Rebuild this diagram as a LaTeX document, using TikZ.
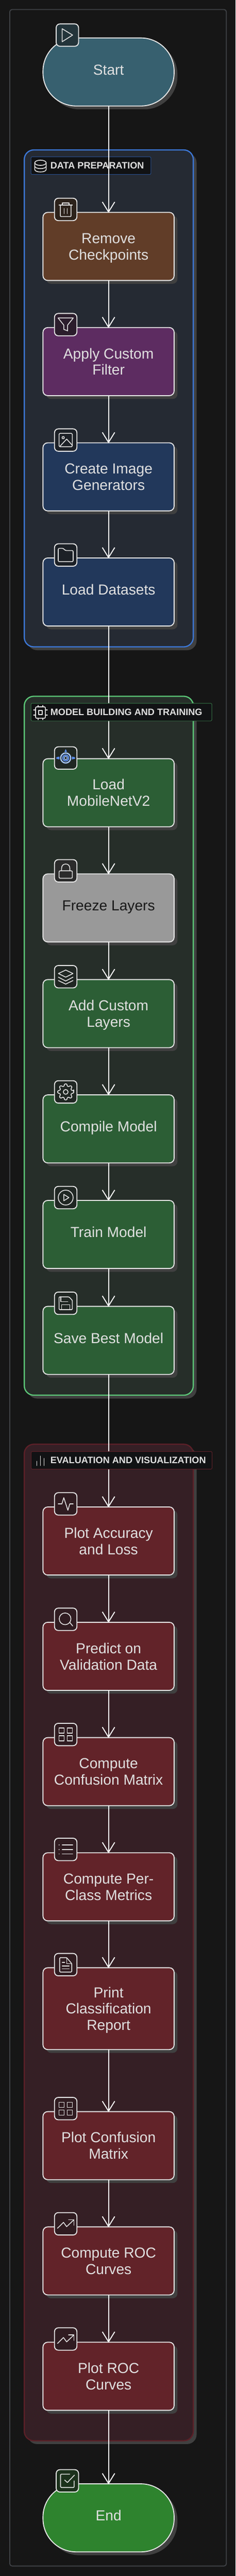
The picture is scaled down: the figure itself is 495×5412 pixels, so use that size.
\documentclass[tikz,border=0pt]{standalone}
\usepackage{fontspec}
\setmainfont{Liberation Sans}
\usetikzlibrary{arrows.meta,shadows,shapes}
\definecolor{pagebg}{HTML}{161616}
\definecolor{framegray}{HTML}{3F4246}
\definecolor{shadowgray}{HTML}{404040}
\definecolor{textgray}{HTML}{E0E0E0}
\definecolor{edgegray}{HTML}{E6E6E6}
\definecolor{titlebg}{HTML}{111214}
\definecolor{startfill}{HTML}{37606F}
\definecolor{brownfill}{HTML}{613D28}
\definecolor{purplefill}{HTML}{5D2C61}
\definecolor{navyfill}{HTML}{22385B}
\definecolor{greenfill}{HTML}{2C5E35}
\definecolor{grayfill}{HTML}{999999}
\definecolor{redfill}{HTML}{622329}
\definecolor{endfill}{HTML}{2E832E}
\definecolor{bluesec}{HTML}{252A33}
\definecolor{greensec}{HTML}{262E29}
\definecolor{redsec}{HTML}{351F25}
\definecolor{blueline}{HTML}{3C78D8}
\definecolor{greenline}{HTML}{5CC878}
\definecolor{redline}{HTML}{5C2028}
\definecolor{eyeblue}{HTML}{5B8EF0}
\definecolor{eyelight}{HTML}{A8C7FA}
\tikzset{every picture/.style={>={Straight Barb[length=21pt,width=26pt,line width=2pt]}},
  dropped/.style={drop shadow={shadow xshift=7pt,shadow yshift=-7pt,opacity=1,fill=shadowgray}},
  stepbox/.style={draw=edgegray,line width=2pt,rounded corners=10pt,minimum width=275.5pt,minimum height=143pt,outer sep=0pt,inner sep=0pt,align=center,text=textgray,font=\fontsize{30.5}{34.5}\selectfont,dropped},
  oneline/.style={text height=22pt,text depth=10pt},
  twoline/.style={text height=56.5pt,text depth=0pt},
  threeline/.style={text height=91pt,text depth=0pt},
  endbox/.style={stepbox,rounded corners=70pt},
  section/.style={line width=2.5pt,rounded corners=20pt,minimum width=355pt,outer sep=0pt,inner sep=0pt,dropped},
  titlebox/.style={fill=titlebg,line width=1pt,rounded corners=2pt,minimum height=37pt,anchor=west,outer sep=0pt,inner sep=0pt},
  titletext/.style={anchor=west,inner sep=0pt,text=textgray,font=\bfseries\fontsize{19.6}{21}\selectfont},
  iconbox/.style={draw=edgegray,line width=2pt,rounded corners=8pt,minimum size=47pt,outer sep=0pt,inner sep=0pt},
  iconline/.style={draw=textgray,line width=1.7pt,line join=round,line cap=round},
  flow/.style={draw=white,line width=2pt,shorten >=-1pt},
  playicon/.pic={\draw [iconline] (-11,-13.4) -- (11,0) -- (-11,14) -- cycle;},
  trashicon/.pic={\draw [iconline] (-14,-9) -- (14,-9);
    \draw [iconline] (-7,-9) -- (-7,-13.5) -- (7,-13.5) -- (7,-9);
    \draw [iconline,rounded corners=1.5pt] (-11.3,-9) -- (-11.3,15) -- (11.3,15) -- (11.3,-9);
    \draw [iconline] (-3.3,-2) -- (-3.3,9);
    \draw [iconline] (3.3,-2) -- (3.3,9);},
  filtericon/.pic={\draw [iconline] (-16,-14) -- (16,-14) -- (4,1) -- (4,13) -- (-4,10) -- (-4,1) -- cycle;},
  imageicon/.pic={\draw [iconline,rounded corners=2pt] (-14,-14) rectangle (14,14);
    \draw [iconline] (-5.3,-5) circle [radius=2.4];
    \draw [iconline] (-12,13) -- (2,-2) -- (14,11);},
  foldericon/.pic={\draw [iconline,rounded corners=2.5pt] (-15.7,-14) -- (-5,-14) -- (-1,-9.4) -- (15.7,-9.4) -- (15.7,14) -- (-15.7,14) -- cycle;},
  eyeicon/.pic={\fill [eyeblue] (0,-18.7) -- (2.7,-12.7) -- (-2.7,-12.7) -- cycle;
    \fill [eyeblue] (-19.7,-1.5) -- (-13,-3) -- (-13,3) -- (-19.7,1.5) -- cycle;
    \fill [eyeblue] (19.7,-1.5) -- (13,-3) -- (13,3) -- (19.7,1.5) -- cycle;
    \draw [eyelight,line width=2.6pt] (0,0) circle [radius=10.5];
    \draw [eyeblue,line width=2.4pt] (0,0) circle [radius=6.2];
    \draw [eyelight,line width=1.6pt] (0,0) circle [radius=3.4];},
  lockicon/.pic={\draw [iconline,rounded corners=2.5pt] (-14,0) rectangle (14,15.6);
    \draw [iconline] (-8.7,0) -- (-8.7,-5) .. controls (-8.7,-11) and (-5,-14.3) .. (0,-14.3) .. controls (5,-14.3) and (8.7,-11) .. (8.7,-5) -- (8.7,0);},
  layersicon/.pic={\draw [iconline] (0,-14) -- (15.3,-6.7) -- (0,0.9) -- (-15.3,-6.7) -- cycle;
    \draw [iconline] (-15.3,0.9) -- (0,9) -- (15.3,0.9);
    \draw [iconline] (-15.3,8) -- (0,15.6) -- (15.3,8);},
  gearicon/.pic={\draw [iconline,rounded corners=1.5pt] (-9:17) \foreach \a in {0,45,...,315} { -- (\a-9:17) -- (\a+9:17) -- (\a+14:12.5) -- (\a+31:12.5)} -- cycle;
    \draw [iconline] (0,0) circle [radius=5];},
  circleplayicon/.pic={\draw [iconline] (0,0) circle [radius=15.6];
    \draw [iconline] (-4,-6.7) -- (6.7,0) -- (-4,6.7) -- cycle;},
  saveicon/.pic={\draw [iconline,rounded corners=1.5pt] (-14,-13.4) -- (7,-13.4) -- (14,-6) -- (14,13.4) -- (-14,13.4) -- cycle;
    \draw [iconline] (-10,-13.4) -- (-10,-3.5) -- (4.5,-3.5);
    \draw [iconline] (-8.5,13.4) -- (-8.5,3) -- (8.5,3) -- (8.5,13.4);},
  activityicon/.pic={\draw [iconline] (-15.7,0) -- (-8,0) -- (-4,-13) -- (4.6,13.4) -- (8.7,0) -- (15.7,0);},
  searchicon/.pic={\draw [iconline] (-1.3,-1) circle [radius=12.3];
    \draw [iconline] (8.7,6.7) -- (14.7,14);},
  gridicon/.pic={\draw [iconline] (-14,-13.4) rectangle (-3.3,-2.7);
    \draw [iconline] (3.3,-13.4) rectangle (14,-2.7);
    \draw [iconline] (-14,2.7) rectangle (-3.3,13.6);
    \draw [iconline] (3.3,2.7) rectangle (14,13.6);},
  listicon/.pic={\draw [iconline] (-7.3,-9.4) -- (14.7,-9.4);
    \draw [iconline] (-7.3,0) -- (14.7,0);
    \draw [iconline] (-7.3,9.4) -- (14.7,9.4);
    \draw [iconline] (-14,-9.4) -- (-13.6,-9.4);
    \draw [iconline] (-14,0) -- (-13.6,0);
    \draw [iconline] (-14,9.4) -- (-13.6,9.4);},
  fileicon/.pic={\draw [iconline,rounded corners=1.5pt] (-12.7,-14.7) -- (2,-14.7) -- (12.7,-2.2) -- (12.7,15.6) -- (-12.7,15.6) -- cycle;
    \draw [iconline] (2,-14.7) -- (2,-2.2) -- (12.7,-2.2);
    \draw [iconline] (-7.3,-4.5) -- (-2,-4.5);
    \draw [iconline] (-7.3,3) -- (7.3,3);
    \draw [iconline] (-7.3,9) -- (7.3,9);},
  trendicon/.pic={\draw [iconline] (-17.3,9.4) -- (-4.7,-3) -- (2,6) -- (17.3,-8.5);
    \draw [iconline] (6,-8.5) -- (17.3,-8.5) -- (17.3,3);},
  checkicon/.pic={\draw [iconline,rounded corners=1.5pt] (5,-14) -- (-14.3,-14) -- (-14.3,14) -- (14.3,14) -- (14.3,0);
    \draw [iconline] (-5.7,-1.6) -- (0,3.5) -- (15,-12.1);},
  databaseicon/.pic={\draw [iconline] (0,-7) ellipse [x radius=12,y radius=5.5];
    \draw [iconline] (-12,-7) -- (-12,7) .. controls (-12,14) and (12,14) .. (12,7) -- (12,-7);
    \draw [iconline] (-12,0) .. controls (-12,7) and (12,7) .. (12,0);},
  chipicon/.pic={\draw [iconline,rounded corners=2.5pt] (-10.3,-12) rectangle (10.3,12);
    \draw [iconline] (-4,-4.5) rectangle (4,4.5);
    \draw [iconline] (-5,-12) -- (-5,-15);
    \draw [iconline] (5,-12) -- (5,-15);
    \draw [iconline] (-5,12) -- (-5,15);
    \draw [iconline] (5,12) -- (5,15);
    \draw [iconline] (-10.3,-5.5) -- (-14.5,-5.5);
    \draw [iconline] (-10.3,5.5) -- (-14.5,5.5);
    \draw [iconline] (10.3,-5.5) -- (14.5,-5.5);
    \draw [iconline] (10.3,5.5) -- (14.5,5.5);},
  barsicon/.pic={\draw [iconline] (-7.7,1) -- (-7.7,10);
    \draw [iconline] (0,-10) -- (0,10);
    \draw [iconline] (7.7,-5) -- (7.7,10);}}
\begin{document}
\begin{tikzpicture}[x=1pt,y=-1pt]
  \fill [pagebg] (0,0) rectangle (495,5412);
  \node (frame) [draw=framegray,line width=2pt,rounded corners=5pt,minimum width=455pt,minimum height=5371pt,inner sep=0pt] at (248,5412/2-0.5) {};
  \node (datasec) [section,draw=blueline,fill=bluesec,minimum height=1044pt] at (228.5,837) {};
  \node (modelsec) [section,draw=greenline,fill=greensec,minimum height=1468.4pt] at (228.5,2197) {};
  \node (evalsec) [section,draw=redline,fill=redsec,minimum height=2093.5pt] at (228.5,4081) {};
  \node (datatitle) [titlebox,draw=blueline!65!black,minimum width=252pt] at (65,348) {};
  \pic at (85,349) {databaseicon};
  \node (datatext) [titletext] at (105.7,348) {DATA PREPARATION};
  \node (start) [endbox,oneline,fill=startfill] at (228,151.2) {Start};
  \node (remove) [stepbox,twoline,fill=brownfill] at (228,517.7) {Remove\\Checkpoints};
  \node (filter) [stepbox,twoline,fill=purplefill] at (228,759.7) {Apply Custom\\Filter};
  \node (generators) [stepbox,twoline,fill=navyfill] at (228,1001.8) {Create Image\\Generators};
  \node (datasets) [stepbox,oneline,fill=navyfill] at (228,1243.7) {Load Datasets};
  \node (mobilenet) [stepbox,twoline,fill=greenfill] at (228,1665.5) {Load\\MobileNetV2};
  \node (freeze) [stepbox,oneline,fill=grayfill,text=black!90] at (228,1907.5) {Freeze Layers};
  \node (custom) [stepbox,twoline,fill=greenfill] at (228,2129.5) {Add Custom\\Layers};
  \node (compile) [stepbox,oneline,fill=greenfill] at (228,2371.7) {Compile Model};
  \node (train) [stepbox,oneline,fill=greenfill] at (228,2593.5) {Train Model};
  \node (save) [stepbox,oneline,fill=greenfill] at (228,2816) {Save Best Model};
  \node (accuracy) [stepbox,twoline,fill=redfill] at (228,3237.5) {Plot Accuracy\\and Loss};
  \node (predict) [stepbox,twoline,fill=redfill] at (228,3479.8) {Predict on\\Validation Data};
  \node (confusion) [stepbox,twoline,fill=redfill] at (228,3722) {Compute\\Confusion Matrix};
  \node (metrics) [stepbox,twoline,fill=redfill] at (228,3964) {Compute Per-\\Class Metrics};
  \node (report) [stepbox,threeline,fill=redfill,minimum height=172pt] at (228,4220) {Print\\Classification\\Report};
  \node (plotconf) [stepbox,twoline,fill=redfill] at (228,4507.8) {Plot Confusion\\Matrix};
  \node (rocdata) [stepbox,twoline,fill=redfill] at (228,4750) {Compute ROC\\Curves};
  \node (rocplot) [stepbox,twoline,fill=redfill] at (228,4992.3) {Plot ROC\\Curves};
  \node (end) [endbox,oneline,fill=endfill] at (228,5289.8) {End};
  \draw [->,flow] (start) -- (remove);
  \draw [->,flow] (remove) -- (filter);
  \draw [->,flow] (filter) -- (generators);
  \draw [->,flow] (generators) -- (datasets);
  \draw [->,flow] (datasets) -- (mobilenet);
  \draw [->,flow] (mobilenet) -- (freeze);
  \draw [->,flow] (freeze) -- (custom);
  \draw [->,flow] (custom) -- (compile);
  \draw [->,flow] (compile) -- (train);
  \draw [->,flow] (train) -- (save);
  \draw [->,flow] (save) -- (accuracy);
  \draw [->,flow] (accuracy) -- (predict);
  \draw [->,flow] (predict) -- (confusion);
  \draw [->,flow] (confusion) -- (metrics);
  \draw [->,flow] (metrics) -- (report);
  \draw [->,flow] (report) -- (plotconf);
  \draw [->,flow] (plotconf) -- (rocdata);
  \draw [->,flow] (rocdata) -- (rocplot);
  \draw [->,flow] (rocplot) -- (end);
  \node (modeltitle) [titlebox,draw=greenline!60!black,minimum width=380pt] at (65,1496) {};
  \pic at (85,1497) {chipicon};
  \node (modeltext) [titletext] at (105.7,1496) {MODEL BUILDING AND TRAINING};
  \node (evaltitle) [titlebox,draw=redline,minimum width=380pt] at (65.5,3068) {};
  \pic at (85,3069) {barsicon};
  \node (evaltext) [titletext] at (105.7,3068) {EVALUATION AND VISUALIZATION};
  \node (starticon) [iconbox,fill=startfill!40!pagebg] at (141.5,73.7) {};
  \pic at (starticon) {playicon};
  \node (removeicon) [iconbox,fill=brownfill!30!pagebg] at (138,440) {};
  \pic at (removeicon) {trashicon};
  \node (filtericon) [iconbox,fill=purplefill!30!pagebg] at (138,682) {};
  \pic at (filtericon) {filtericon};
  \node (genicon) [iconbox,fill=bluesec!75!black] at (138,924.5) {};
  \pic at (genicon) {imageicon};
  \node (dataseticon) [iconbox,fill=bluesec!75!black] at (138,1166) {};
  \pic at (dataseticon) {foldericon};
  \node (loadicon) [iconbox,fill=greensec!85!black] at (138,1592.5) {};
  \pic at (loadicon) {eyeicon};
  \node (freezeicon) [iconbox,fill=black!83] at (138,1829.5) {};
  \pic at (freezeicon) {lockicon};
  \node (customicon) [iconbox,fill=greensec!85!black] at (138,2052) {};
  \pic at (customicon) {layersicon};
  \node (compileicon) [iconbox,fill=greensec!85!black] at (138,2294) {};
  \pic at (compileicon) {gearicon};
  \node (trainicon) [iconbox,fill=greensec!85!black] at (138,2516) {};
  \pic at (trainicon) {circleplayicon};
  \node (saveicon) [iconbox,fill=greensec!85!black] at (138,2738) {};
  \pic at (saveicon) {saveicon};
  \node (accicon) [iconbox,fill=redsec!90!black] at (138,3159.5) {};
  \pic at (accicon) {activityicon};
  \node (predicticon) [iconbox,fill=redsec!90!black] at (138,3402) {};
  \pic at (predicticon) {searchicon};
  \node (confusionicon) [iconbox,fill=redsec!90!black] at (138,3644) {};
  \pic at (confusionicon) {gridicon};
  \node (metricsicon) [iconbox,fill=redsec!90!black] at (138,3885.5) {};
  \pic at (metricsicon) {listicon};
  \node (reporticon) [iconbox,fill=redsec!90!black] at (138,4127.5) {};
  \pic at (reporticon) {fileicon};
  \node (plotconficon) [iconbox,fill=redsec!90!black] at (138,4430) {};
  \pic at (plotconficon) {gridicon};
  \node (rocdataicon) [iconbox,fill=redsec!90!black] at (138,4672) {};
  \pic at (rocdataicon) {trendicon};
  \node (rocploticon) [iconbox,fill=redsec!90!black] at (138,4914) {};
  \pic at (rocploticon) {trendicon};
  \node (endicon) [iconbox,fill=endfill!25!pagebg] at (141.5,5212) {};
  \pic at (endicon) {checkicon};
\end{tikzpicture}
\end{document}
